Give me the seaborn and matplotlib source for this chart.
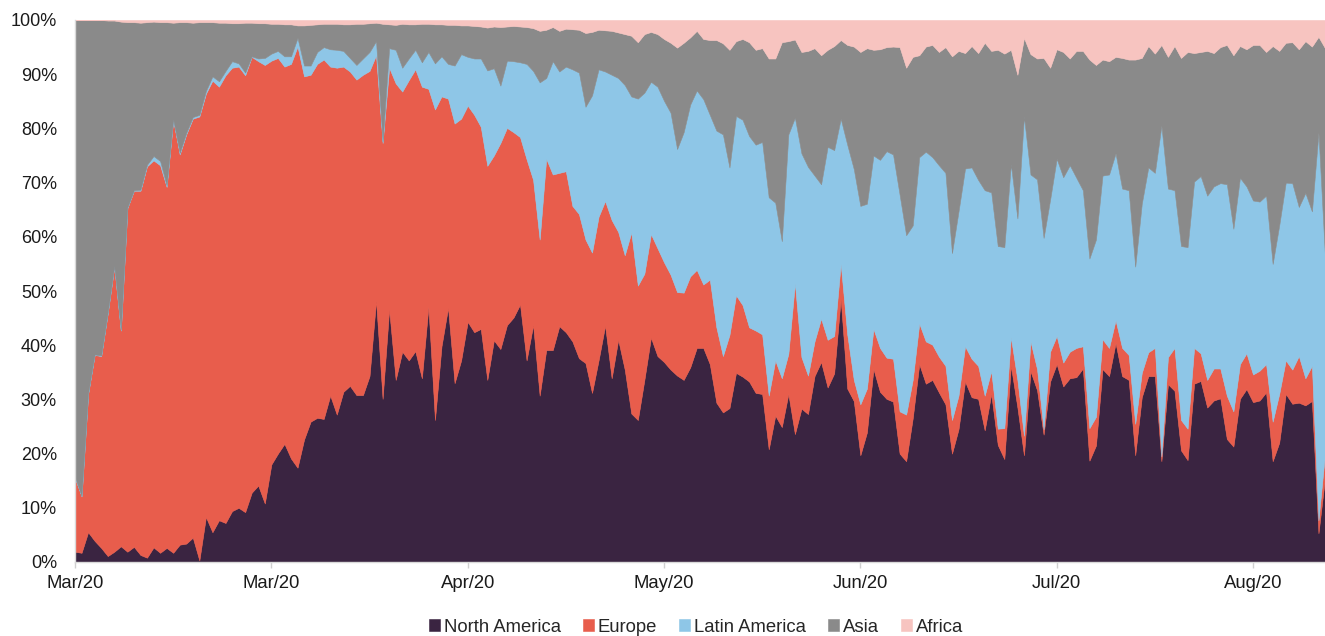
import numpy as np
import matplotlib
matplotlib.use("Agg")
import matplotlib.pyplot as plt
import seaborn as sns

regions = ["North America", "Europe", "Latin America", "Asia", "Africa"]
colors = ["#3a2441", "#e85d4c", "#8ec6e7", "#8a8a8a", "#f7c4c0"]

# Cumulative upper edge (%) of each band, one value per day
na_top = ([1.9, 1.7, 5.5, 3.9, 2.6, 1.1, 1.9, 2.9, 1.9, 2.8, 1.3, 0.8, 2.7, 1.7, 2.6, 1.7, 3.2, 3.4, 4.5, 0.3, 8.3, 5.5, 7.7]
          + [7.2, 9.4, 10.0, 9.2, 12.8, 14.1, 10.8, 18.0, 20.0, 21.8, 19.1, 17.4, 22.6, 25.9, 26.6, 26.4, 30.7, 27.2, 31.4, 32.5, 30.8, 30.8, 34.3, 48.2]
          + [30.1, 46.6, 33.6, 38.8, 37.2, 38.9, 33.9, 47.1, 26.2, 39.8, 46.9, 33.0, 37.2, 44.3, 42.4, 43.0, 33.6, 40.9, 39.3, 43.7, 45.1, 47.5, 37.2, 43.7]
          + [30.7, 39.1, 39.1, 43.5, 42.4, 40.7, 37.6, 36.7, 31.2, 37.2, 43.6, 33.9, 41.0, 35.5, 27.4, 26.2, 33.6, 41.4, 38.0, 36.9, 35.5, 34.4, 33.6, 35.9]
          + [39.5, 39.5, 36.5, 29.4, 27.6, 28.4, 34.9, 34.2, 33.3, 31.2, 31.0, 20.8, 27.0, 24.9, 31.0, 23.6, 28.3, 27.3, 34.3, 36.9, 32.2, 34.8, 48.6, 32.0]
          + [29.7, 19.7, 23.9, 35.6, 31.4, 30.1, 29.6, 20.0, 18.6, 26.5, 36.5, 32.9, 33.6, 31.3, 29.1, 20.0, 24.5, 33.3, 30.4, 30.1, 24.3, 31.0, 21.6, 19.0]
          + [36.2, 28.5, 19.7, 35.2, 31.7, 23.5, 33.3, 36.5, 32.4, 33.9, 34.1, 35.7, 18.7, 21.5, 35.6, 34.3, 40.4, 34.3, 33.6, 19.7, 30.4, 34.3]
          + [34.3, 18.6, 32.8, 31.6, 20.6, 18.8, 32.9, 33.4, 28.5, 29.8, 30.2, 22.7, 21.3, 30.1, 31.9, 29.5, 29.8, 31.3, 18.6, 22.0, 31.0, 29.2, 29.4, 28.9, 29.7, 5.3, 15.5])

eu_top = ([15.5, 12.1, 31.0, 38.2, 38.0, 45.9, 54.5, 42.7, 65.3, 68.5, 68.5, 73.0, 74.1, 73.2, 69.2, 81.5, 75.2, 78.9, 81.8, 82.2, 86.4, 88.8, 87.7]
          + [89.8, 91.2, 91.4, 89.8, 93.2, 92.4, 91.7, 92.5, 93.0, 91.4, 91.9, 95.1, 89.6, 89.9, 91.9, 92.7, 91.4, 91.2, 91.4, 90.5, 89.0, 89.9, 90.6, 93.5]
          + [77.3, 91.2, 88.3, 86.8, 88.9, 90.9, 87.7, 87.3, 83.5, 85.9, 85.5, 80.9, 81.8, 84.2, 82.5, 80.3, 73.1, 75.0, 77.3, 80.1, 79.3, 78.4, 74.3, 70.5]
          + [59.5, 74.4, 71.5, 71.8, 72.1, 65.7, 64.2, 59.5, 57.1, 63.7, 66.6, 63.1, 60.9, 56.6, 60.8, 51.0, 53.2, 60.5, 57.9, 55.3, 53.0, 49.8, 49.7, 52.7]
          + [53.9, 51.2, 52.1, 43.3, 38.0, 41.9, 49.2, 47.4, 43.3, 42.7, 42.0, 30.7, 37.2, 33.9, 38.4, 51.4, 37.8, 34.4, 40.7, 44.9, 41.0, 41.7, 55.0, 42.0]
          + [33.6, 29.1, 32.0, 43.0, 39.5, 37.7, 37.5, 27.8, 27.2, 33.6, 44.0, 40.7, 40.1, 37.9, 36.2, 26.2, 30.7, 39.8, 37.5, 36.2, 30.7, 35.2, 24.6, 24.7]
          + [41.5, 33.6, 23.3, 40.7, 35.6, 24.5, 38.8, 41.7, 36.8, 38.8, 39.5, 39.8, 24.7, 26.8, 41.1, 39.5, 44.6, 39.5, 38.2, 25.5, 34.9, 38.7]
          + [39.5, 19.5, 37.8, 39.5, 26.2, 24.6, 39.5, 38.5, 33.6, 35.7, 35.7, 30.7, 27.8, 36.5, 38.5, 34.6, 35.3, 36.5, 25.9, 31.0, 37.2, 35.5, 38.0, 33.9, 36.2, 7.7, 20.0])

la_top = ([15.6, 12.2, 31.1, 38.3, 38.1, 46.0, 54.6, 42.8, 65.4, 68.6, 68.7, 73.3, 74.9, 74.0, 69.5, 81.7, 75.5, 79.2, 82.1, 82.5, 86.9, 89.6, 88.7]
          + [90.6, 92.4, 92.0, 90.3, 93.3, 92.9, 93.0, 93.8, 94.3, 93.3, 93.3, 96.7, 91.6, 91.6, 94.1, 95.0, 94.6, 94.5, 94.3, 93.0, 91.7, 92.9, 94.1, 96.1]
          + [77.6, 94.8, 94.5, 91.2, 92.9, 94.5, 92.2, 94.1, 92.0, 93.3, 91.9, 91.6, 93.7, 93.2, 92.9, 92.9, 90.7, 91.1, 87.9, 92.5, 92.4, 92.2, 91.9, 90.6]
          + [88.5, 89.3, 92.4, 90.5, 91.4, 90.9, 90.3, 84.0, 86.1, 90.9, 90.5, 89.9, 89.3, 88.0, 85.9, 85.5, 86.6, 88.6, 87.7, 85.1, 82.9, 76.2, 79.3, 84.4]
          + [87.0, 85.4, 82.5, 79.6, 78.9, 72.8, 82.3, 81.6, 78.6, 77.0, 77.5, 67.3, 66.3, 59.2, 78.9, 82.0, 75.4, 72.9, 71.3, 69.7, 76.6, 76.0, 81.8, 77.0]
          + [72.5, 65.7, 66.1, 75.0, 74.2, 75.8, 75.2, 67.8, 60.3, 62.1, 74.7, 75.7, 74.7, 73.2, 71.8, 57.0, 64.7, 72.6, 72.8, 70.5, 68.6, 68.2, 58.3, 58.1]
          + [73.4, 63.4, 82.2, 71.5, 70.6, 59.8, 66.9, 74.4, 71.0, 73.2, 70.9, 68.6, 56.0, 59.5, 71.3, 71.5, 75.4, 68.9, 68.6, 54.5, 66.1, 72.8]
          + [71.8, 80.5, 68.9, 68.6, 58.3, 58.1, 70.2, 71.2, 67.6, 69.3, 69.9, 69.7, 61.5, 70.9, 69.3, 66.7, 66.5, 67.6, 55.0, 62.1, 70.0, 69.9, 65.5, 68.1, 64.7, 79.2, 56.3])

asia_top = ([100, 100, 100, 100, 100, 99.9, 99.9, 99.7, 99.6, 99.6, 99.5, 99.6, 99.7, 99.6, 99.6, 99.5, 99.6, 99.6, 99.5, 99.6, 99.6, 99.6, 99.5]
            + [99.5, 99.4, 99.4, 99.5, 99.5, 99.4, 99.4, 99.3, 99.3, 99.2, 99.2, 99.0, 99.0, 99.1, 99.2, 99.3, 99.3, 99.3, 99.2, 99.2, 99.3, 99.3, 99.4, 99.5]
            + [99.3, 99.2, 99.1, 99.3, 99.2, 99.2, 99.3, 99.3, 99.2, 99.2, 99.1, 99.1, 99.0, 99.0, 98.9, 98.8, 98.6, 98.8, 98.7, 98.8, 98.9, 98.8, 98.7, 98.5]
            + [98.0, 98.2, 98.7, 98.0, 98.4, 98.3, 98.2, 97.6, 97.8, 98.2, 98.1, 98.0, 97.7, 97.4, 97.1, 95.9, 97.4, 97.8, 97.4, 96.5, 95.8, 94.9, 95.8, 96.8]
            + [98.0, 96.5, 96.3, 96.3, 95.7, 94.5, 96.1, 96.5, 95.9, 94.5, 94.8, 92.9, 92.9, 95.9, 96.1, 96.4, 94.1, 94.3, 94.8, 93.5, 94.5, 95.2, 96.3, 95.4]
            + [95.1, 94.1, 94.8, 94.5, 94.6, 95.0, 95.1, 95.0, 91.2, 93.2, 93.5, 95.1, 95.4, 94.1, 95.0, 93.3, 94.3, 93.9, 95.2, 93.9, 95.8, 94.3, 94.5, 93.8]
            + [94.5, 89.9, 96.7, 93.7, 92.9, 93.0, 91.2, 94.6, 94.1, 92.9, 94.3, 94.3, 92.7, 91.7, 92.7, 92.4, 93.2, 93.0, 92.7, 92.7, 93.0, 95.2]
            + [93.8, 95.4, 93.2, 95.2, 93.0, 94.1, 93.9, 94.1, 94.3, 93.9, 95.0, 95.4, 93.5, 95.2, 94.6, 95.4, 95.4, 94.1, 95.2, 94.3, 95.8, 95.9, 94.6, 96.1, 95.1, 96.9, 94.8])

tick_days = [0, 30, 60, 90, 120, 150, 180]
tick_labels = ["Mar/20", "Mar/20", "Apr/20", "May/20", "Jun/20", "Jul/20", "Aug/20"]
y_ticks = list(range(0, 101, 10))

sns.set_theme(style="white")
plt.rcParams["font.family"] = ["Liberation Sans", "DejaVu Sans"]

n = len(na_top)
days = np.arange(n)
tops = np.vstack([na_top, eu_top, la_top, asia_top, np.full(n, 100.0)])
shares = np.diff(np.vstack([np.zeros(n), tops]), axis=0)

fig = plt.figure(figsize=(13.25, 6.36), dpi=100)
ax = fig.add_axes([75 / 1325, 1 - 562 / 636, 1250 / 1325, 542 / 636])
ax.stackplot(days, shares, colors=colors, labels=regions,
             linewidth=0.4, edgecolor="face")

ax.set_xlim(0, n - 1)
ax.set_ylim(0, 100)
ax.set_yticks(y_ticks)
ax.set_yticklabels([f"{v}%" for v in y_ticks])
ax.set_xticks(tick_days)
ax.set_xticklabels(tick_labels)

for side in ["top", "right"]:
    ax.spines[side].set_visible(False)
for side in ["left", "bottom"]:
    ax.spines[side].set_color("#d9d9d9")
    ax.spines[side].set_linewidth(1.0)

ax.tick_params(axis="y", length=0, pad=13, labelsize=13, labelcolor="#1a1a1a")
ax.tick_params(axis="x", direction="out", length=4, width=1, color="#d0d0d0",
               pad=5, labelsize=13.3, labelcolor="#1a1a1a", bottom=True)
ax.grid(False)

handles, labels = ax.get_legend_handles_labels()
fig.legend(handles, labels, loc="center", bbox_to_anchor=(696 / 1325, 1 - 627 / 636),
           ncol=5, frameon=False, fontsize=13.3, handlelength=0.6, handleheight=0.6,
           handletextpad=0.2, columnspacing=1.2, borderaxespad=0, borderpad=0)

fig.savefig("out.png", dpi=100)
